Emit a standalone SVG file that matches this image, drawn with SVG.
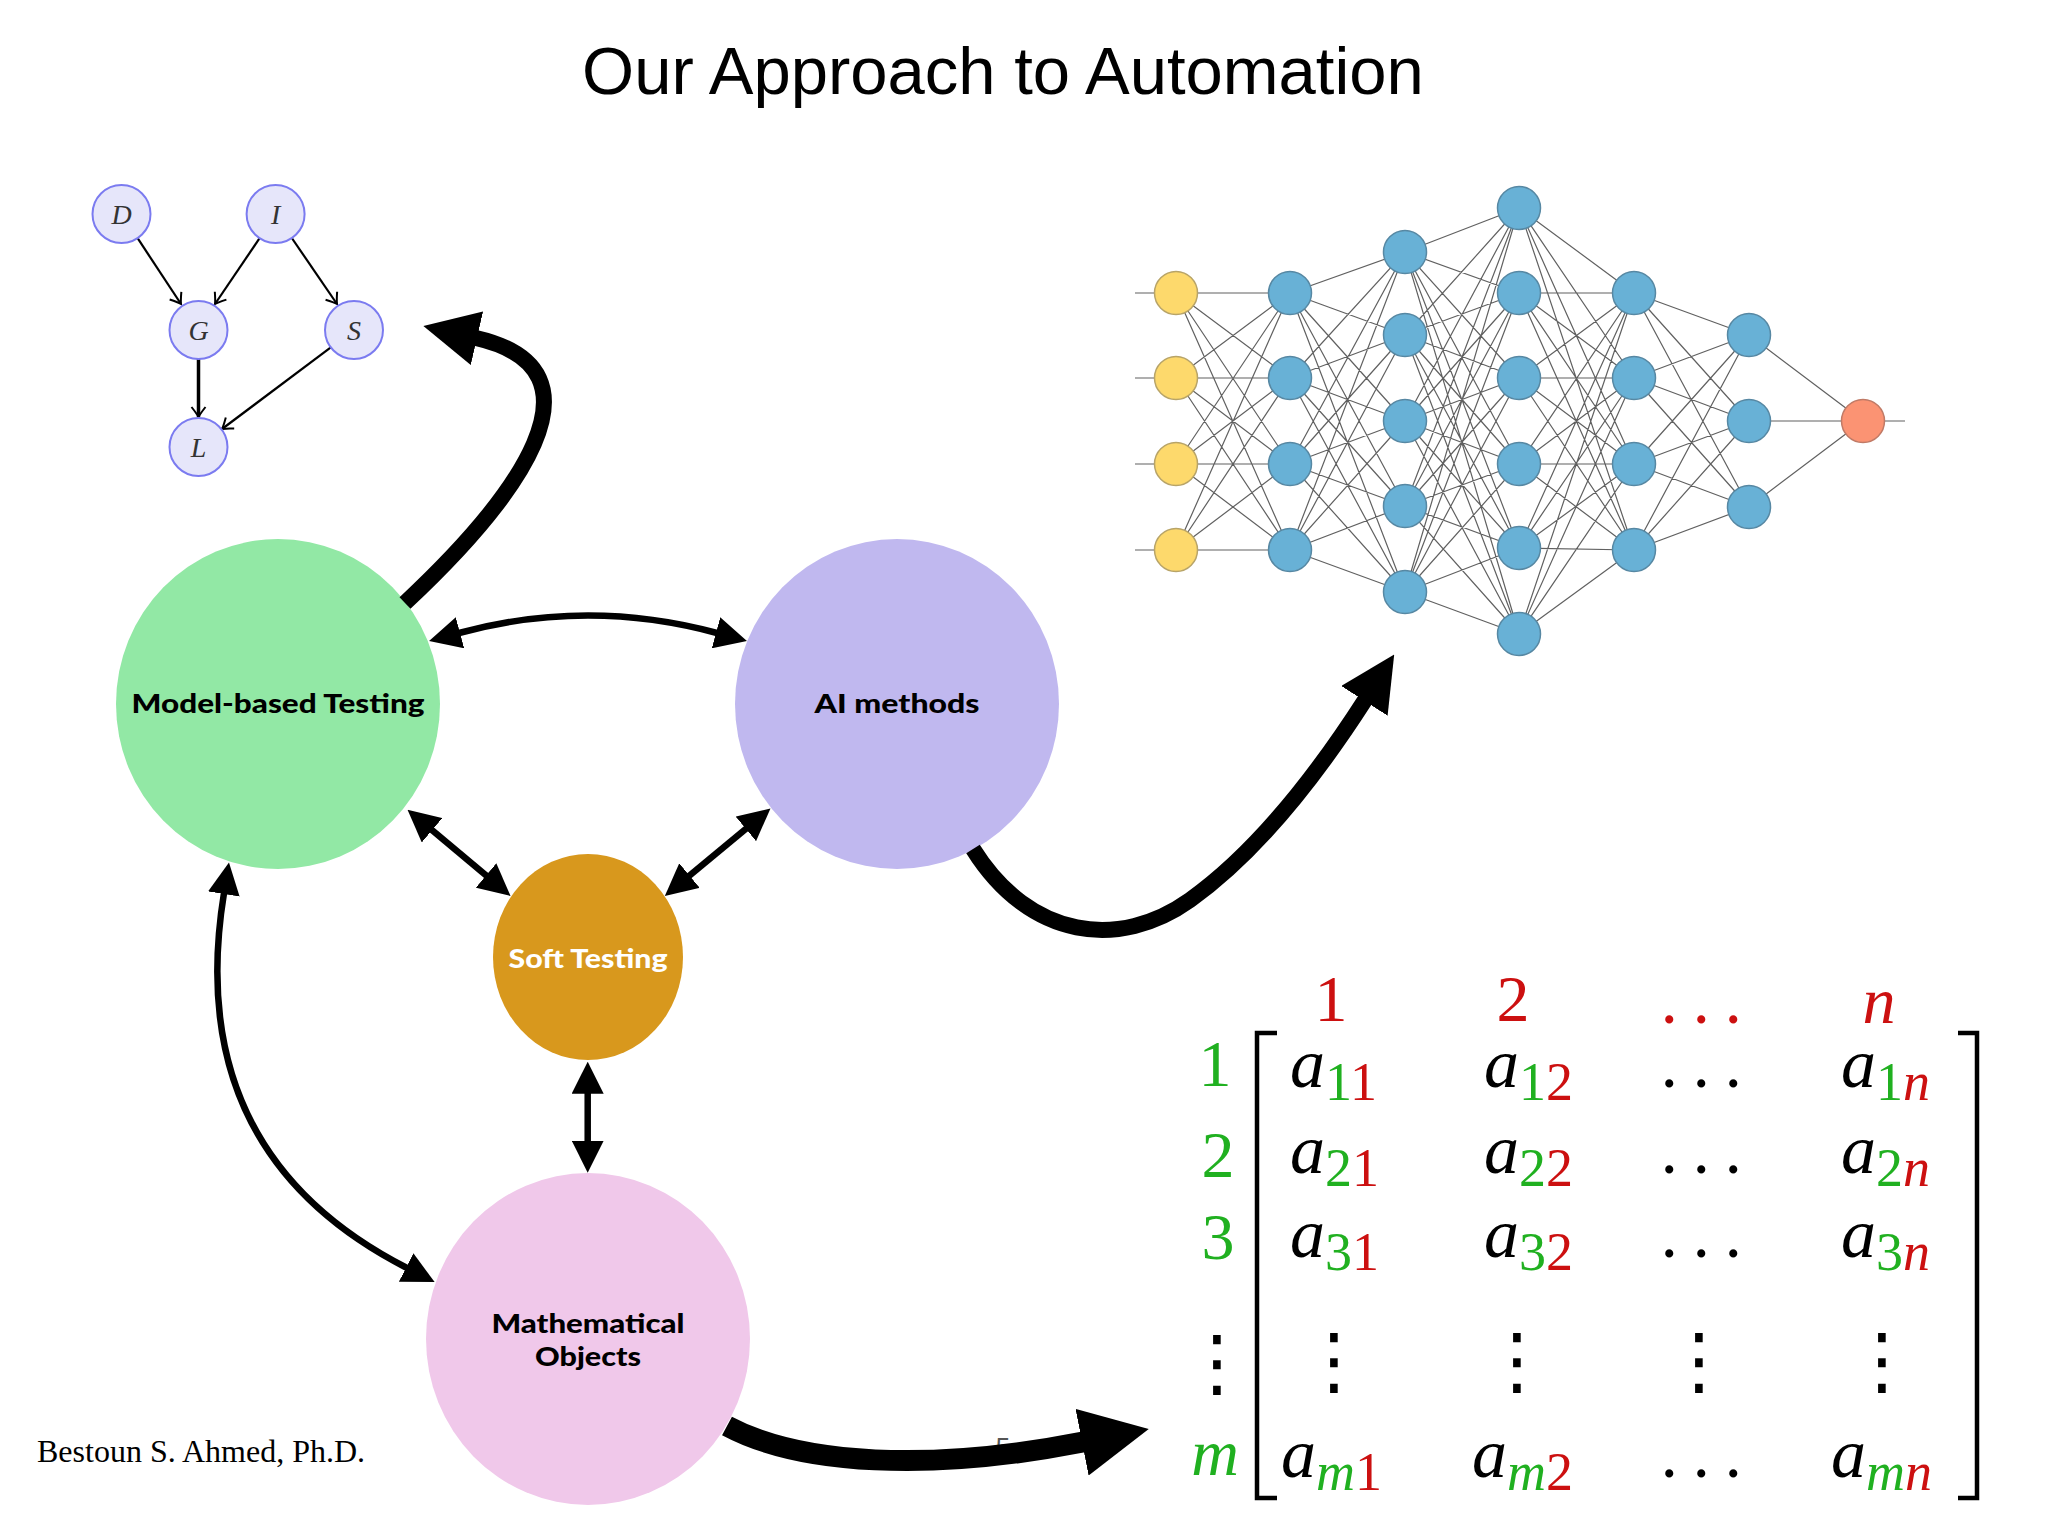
<svg xmlns="http://www.w3.org/2000/svg" width="2048" height="1536" viewBox="0 0 2048 1536">
<defs>
<style>
.title{font-family:"Liberation Sans",Arial,sans-serif;font-size:67px;fill:#000}
.lbl{font-family:Lato,"Open Sans",sans-serif;font-weight:900;font-size:27px;text-anchor:middle;fill:#000}
.bnn{fill:#e6e6fa;stroke:#7b7bf0;stroke-width:2}
.bnt{font-family:"Liberation Serif",serif;font-style:italic;font-size:28px;fill:#333;text-anchor:middle}
.bne{fill:none;stroke:#000;stroke-width:2.2}
.nnl{fill:none;stroke:#444;stroke-width:1.2;opacity:0.85}
.yel{fill:#fdd96c;stroke:#b8a468;stroke-width:1.5}
.blu{fill:#68b1d6;stroke:#5788a3;stroke-width:1.5}
.org{fill:#fb9373;stroke:#c07a66;stroke-width:1.5}
.thin{fill:none;stroke:#000;stroke-width:6.5;marker-start:url(#ah);marker-end:url(#ah)}
.thick{fill:none;stroke:#000;stroke-width:16;marker-end:url(#ahT)}
.mx{font-family:"Liberation Serif","DejaVu Serif",serif;font-size:66px}
.vd{font-family:"DejaVu Sans",sans-serif;font-size:74px;text-anchor:middle}
.dots{font-size:50px;font-weight:bold;letter-spacing:19.5px}
.it{font-style:italic}
.r{fill:#cc1010}
.g{fill:#20b020}
.k{fill:#000}
.sub{font-size:54px}
</style>
<marker id="ah" markerUnits="userSpaceOnUse" viewBox="0 0 32 32" refX="1" refY="16" markerWidth="32" markerHeight="32" orient="auto-start-reverse"><path d="M0,0 L32,16 L0,32 Z" fill="#000"/></marker>
<marker id="ahT" markerUnits="userSpaceOnUse" viewBox="0 0 55 55" refX="1" refY="27.5" markerWidth="55" markerHeight="55" orient="auto"><path d="M0,0 L55,27.5 L0,55 Z" fill="#000"/></marker>
<marker id="ahM" markerUnits="userSpaceOnUse" viewBox="0 0 68 68" refX="1" refY="34" markerWidth="68" markerHeight="68" orient="auto"><path d="M0,0 L68,34 L0,68 Z" fill="#000"/></marker>
<marker id="bnA" markerUnits="userSpaceOnUse" viewBox="-12 -9 14 18" refX="0" refY="0" markerWidth="14" markerHeight="18" orient="auto"><path d="M-10,-7 Q-3,-1.5 0,0 Q-3,1.5 -10,7" fill="none" stroke="#000" stroke-width="2"/></marker>
</defs>
<rect width="2048" height="1536" fill="#fff"/>
<text class="title" x="1003" y="94" text-anchor="middle">Our Approach to Automation</text>

<g id="bayes-net">
<g class="bne" marker-end="url(#bnA)">
<path d="M137.6,238.2 L181,304"/>
<path d="M259.6,238.2 L215,304"/>
<path d="M291.8,238 L337,304"/>
<path d="M198.5,359 L198.5,417" stroke-width="3.5"/>
<path d="M330.8,347.4 L222,429"/>
</g>
<g id="bn-D"><circle class="bnn" cx="121.5" cy="214" r="29"/><text class="bnt" x="121.5" y="224">D</text></g>
<g id="bn-I"><circle class="bnn" cx="275.6" cy="214" r="29"/><text class="bnt" x="275.6" y="224">I</text></g>
<g id="bn-G"><circle class="bnn" cx="198.5" cy="330" r="29"/><text class="bnt" x="198.5" y="340">G</text></g>
<g id="bn-S"><circle class="bnn" cx="354" cy="330" r="29"/><text class="bnt" x="354" y="340">S</text></g>
<g id="bn-L"><circle class="bnn" cx="198.5" cy="447" r="29"/><text class="bnt" x="198.5" y="457">L</text></g>
</g>

<g id="neural-net">
<path class="nnl" d="M1135 293H1176M1135 378H1176M1135 464H1176M1135 550H1176M1863 421H1905
M1176 293L1290 293M1176 293L1290 378M1176 293L1290 464M1176 293L1290 550
M1176 378L1290 293M1176 378L1290 378M1176 378L1290 464M1176 378L1290 550
M1176 464L1290 293M1176 464L1290 378M1176 464L1290 464M1176 464L1290 550
M1176 550L1290 293M1176 550L1290 378M1176 550L1290 464M1176 550L1290 550
M1290 293L1405 252M1290 293L1405 335M1290 293L1405 421M1290 293L1405 506M1290 293L1405 592
M1290 378L1405 252M1290 378L1405 335M1290 378L1405 421M1290 378L1405 506M1290 378L1405 592
M1290 464L1405 252M1290 464L1405 335M1290 464L1405 421M1290 464L1405 506M1290 464L1405 592
M1290 550L1405 252M1290 550L1405 335M1290 550L1405 421M1290 550L1405 506M1290 550L1405 592
M1405 252L1519 208M1405 252L1519 293M1405 252L1519 378M1405 252L1519 464M1405 252L1519 548M1405 252L1519 634
M1405 335L1519 208M1405 335L1519 293M1405 335L1519 378M1405 335L1519 464M1405 335L1519 548M1405 335L1519 634
M1405 421L1519 208M1405 421L1519 293M1405 421L1519 378M1405 421L1519 464M1405 421L1519 548M1405 421L1519 634
M1405 506L1519 208M1405 506L1519 293M1405 506L1519 378M1405 506L1519 464M1405 506L1519 548M1405 506L1519 634
M1405 592L1519 208M1405 592L1519 293M1405 592L1519 378M1405 592L1519 464M1405 592L1519 548M1405 592L1519 634
M1519 208L1634 293M1519 208L1634 378M1519 208L1634 464M1519 208L1634 550
M1519 293L1634 293M1519 293L1634 378M1519 293L1634 464M1519 293L1634 550
M1519 378L1634 293M1519 378L1634 378M1519 378L1634 464M1519 378L1634 550
M1519 464L1634 293M1519 464L1634 378M1519 464L1634 464M1519 464L1634 550
M1519 548L1634 293M1519 548L1634 378M1519 548L1634 464M1519 548L1634 550
M1519 634L1634 293M1519 634L1634 378M1519 634L1634 464M1519 634L1634 550
M1634 293L1749 335M1634 293L1749 421M1634 293L1749 507
M1634 378L1749 335M1634 378L1749 421M1634 378L1749 507
M1634 464L1749 335M1634 464L1749 421M1634 464L1749 507
M1634 550L1749 335M1634 550L1749 421M1634 550L1749 507
M1749 335L1863 421M1749 421L1863 421M1749 507L1863 421"/>
<g class="yel"><circle cx="1176" cy="293" r="21.5"/><circle cx="1176" cy="378" r="21.5"/><circle cx="1176" cy="464" r="21.5"/><circle cx="1176" cy="550" r="21.5"/></g>
<g class="blu">
<circle cx="1290" cy="293" r="21.5"/><circle cx="1290" cy="378" r="21.5"/><circle cx="1290" cy="464" r="21.5"/><circle cx="1290" cy="550" r="21.5"/>
<circle cx="1405" cy="252" r="21.5"/><circle cx="1405" cy="335" r="21.5"/><circle cx="1405" cy="421" r="21.5"/><circle cx="1405" cy="506" r="21.5"/><circle cx="1405" cy="592" r="21.5"/>
<circle cx="1519" cy="208" r="21.5"/><circle cx="1519" cy="293" r="21.5"/><circle cx="1519" cy="378" r="21.5"/><circle cx="1519" cy="464" r="21.5"/><circle cx="1519" cy="548" r="21.5"/><circle cx="1519" cy="634" r="21.5"/>
<circle cx="1634" cy="293" r="21.5"/><circle cx="1634" cy="378" r="21.5"/><circle cx="1634" cy="464" r="21.5"/><circle cx="1634" cy="550" r="21.5"/>
<circle cx="1749" cy="335" r="21.5"/><circle cx="1749" cy="421" r="21.5"/><circle cx="1749" cy="507" r="21.5"/>
</g>
<circle class="org" cx="1863" cy="421" r="21.5"/>
</g>

<g id="matrix" class="mx">
<text class="r" x="1331" y="1021" text-anchor="middle">1</text>
<text class="r" x="1513" y="1021" text-anchor="middle">2</text>
<text class="r dots" x="1663" y="1023">...</text>
<text class="r it" x="1879" y="1023" text-anchor="middle">n</text>
<text class="g" x="1215" y="1086" text-anchor="middle">1</text>
<text class="g" x="1218" y="1177" text-anchor="middle">2</text>
<text class="g" x="1218" y="1259" text-anchor="middle">3</text>
<text class="vd k" x="1217" y="1388">⋮</text>
<text class="g it" x="1215" y="1475" text-anchor="middle">m</text>
<path d="M1277,1033 H1257 V1498 H1277 M1958,1033 H1977 V1498 H1958" fill="none" stroke="#000" stroke-width="4.5"/>
<g font-size="70">
<text x="1290" y="1087"><tspan class="it">a</tspan><tspan class="sub g" dy="13">1</tspan><tspan class="sub r">1</tspan></text>
<text x="1484" y="1087"><tspan class="it">a</tspan><tspan class="sub g" dy="13">1</tspan><tspan class="sub r">2</tspan></text>
<text x="1841" y="1087"><tspan class="it">a</tspan><tspan class="sub g" dy="13">1</tspan><tspan class="sub r it">n</tspan></text>
<text x="1290" y="1173"><tspan class="it">a</tspan><tspan class="sub g" dy="13">2</tspan><tspan class="sub r">1</tspan></text>
<text x="1484" y="1173"><tspan class="it">a</tspan><tspan class="sub g" dy="13">2</tspan><tspan class="sub r">2</tspan></text>
<text x="1841" y="1173"><tspan class="it">a</tspan><tspan class="sub g" dy="13">2</tspan><tspan class="sub r it">n</tspan></text>
<text x="1290" y="1257"><tspan class="it">a</tspan><tspan class="sub g" dy="13">3</tspan><tspan class="sub r">1</tspan></text>
<text x="1484" y="1257"><tspan class="it">a</tspan><tspan class="sub g" dy="13">3</tspan><tspan class="sub r">2</tspan></text>
<text x="1841" y="1257"><tspan class="it">a</tspan><tspan class="sub g" dy="13">3</tspan><tspan class="sub r it">n</tspan></text>
<text x="1281" y="1477"><tspan class="it">a</tspan><tspan class="sub g it" dy="13">m</tspan><tspan class="sub r">1</tspan></text>
<text x="1472" y="1477"><tspan class="it">a</tspan><tspan class="sub g it" dy="13">m</tspan><tspan class="sub r">2</tspan></text>
<text x="1831" y="1477"><tspan class="it">a</tspan><tspan class="sub g it" dy="13">m</tspan><tspan class="sub r it">n</tspan></text>
</g>
<text class="dots" x="1663" y="1087">...</text>
<text class="dots" x="1663" y="1173">...</text>
<text class="dots" x="1663" y="1257">...</text>
<text class="dots" x="1663" y="1477">...</text>
<text class="vd" x="1334" y="1386">⋮</text>
<text class="vd" x="1517" y="1386">⋮</text>
<text class="vd" x="1699" y="1386">⋮</text>
<text class="vd" x="1882" y="1386">⋮</text>
</g>

<text x="37" y="1462" font-family="'Liberation Serif',serif" font-size="32" fill="#000">Bestoun S. Ahmed, Ph.D.</text>
<text x="1003" y="1456" font-family="'Liberation Sans',sans-serif" font-size="26" fill="#555" text-anchor="middle">5</text>

<g id="node-mbt"><ellipse cx="278" cy="704" rx="162" ry="165" fill="#92e8a5"/><text class="lbl" x="278" y="713" textLength="293" lengthAdjust="spacingAndGlyphs">Model-based Testing</text></g>
<g id="node-ai"><ellipse cx="897" cy="704" rx="162" ry="165" fill="#c0b8ef"/><text class="lbl" x="897" y="713" textLength="165" lengthAdjust="spacingAndGlyphs">AI methods</text></g>
<g id="node-soft"><ellipse cx="588" cy="957" rx="95" ry="103" fill="#d8981d"/><text class="lbl" x="588" y="968" style="fill:#fff" textLength="159" lengthAdjust="spacingAndGlyphs">Soft Testing</text></g>
<g id="node-math"><ellipse cx="588" cy="1339" rx="162" ry="166" fill="#f0c8ea"/><text class="lbl" x="588" y="1333" textLength="193" lengthAdjust="spacingAndGlyphs">Mathematical</text><text class="lbl" x="588" y="1366" textLength="106" lengthAdjust="spacingAndGlyphs">Objects</text></g>

<g id="connectors">
<path class="thin" d="M459,633 Q588,598 717,633"/>
<path class="thin" d="M431.3,829.6 L486.8,876.1"/>
<path class="thin" d="M746.6,828.2 L688.7,876.2"/>
<path class="thin" d="M587.7,1092.7 L587.7,1141.7"/>
<path class="thin" d="M224,893 C205,1010 215,1170 407,1268"/>
<path class="thick" d="M405,603 C515,500 615,370 476,338"/>
<path class="thick" d="M973,849 C1030,940 1120,950 1190,900 C1260,850 1320,770 1365,700"/>
<path class="thick" style="stroke-width:21;marker-end:url(#ahM)" d="M727,1426 C800,1465 930,1472 1083,1442"/>
</g>
</svg>
